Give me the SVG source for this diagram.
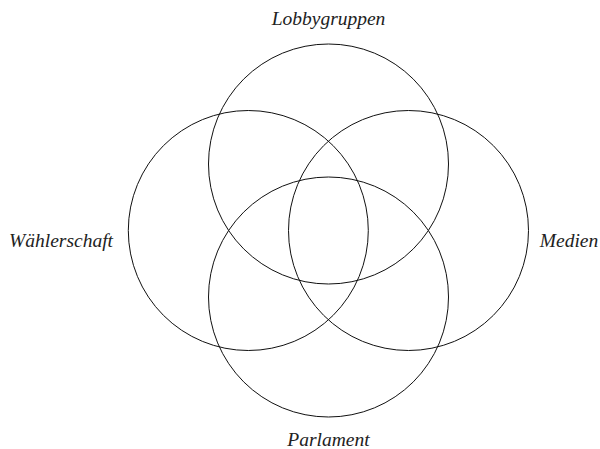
<svg xmlns="http://www.w3.org/2000/svg" width="600" height="449" viewBox="0 0 600 449">
<style>
.c{fill:none;stroke:#111;stroke-width:1}
.t{font-family:"Liberation Serif","Times New Roman",serif;font-style:italic;font-size:19.5px;fill:#222}
</style>
<rect width="600" height="449" fill="#fff"/>
<g id="lobbygruppen"><circle class="c" cx="328.5" cy="164" r="120"/><text class="t" x="328.5" y="25" text-anchor="middle">Lobbygruppen</text></g>
<g id="waehlerschaft"><circle class="c" cx="248.3" cy="230.5" r="120"/><text class="t" x="61" y="247" text-anchor="middle">Wählerschaft</text></g>
<g id="medien"><circle class="c" cx="408.5" cy="230.5" r="120"/><text class="t" x="569" y="247" text-anchor="middle">Medien</text></g>
<g id="parlament"><circle class="c" cx="328.5" cy="297" r="120"/><text class="t" x="328.5" y="446" text-anchor="middle">Parlament</text></g>
<g id="connectors"></g>
</svg>
